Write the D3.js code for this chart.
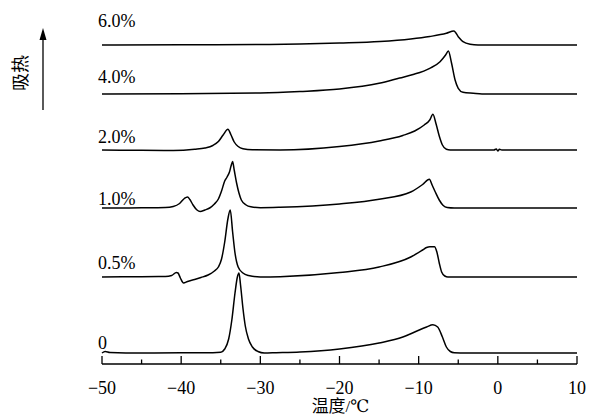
<!DOCTYPE html>
<html>
<head>
<meta charset="utf-8">
<script src="https://cdn.jsdelivr.net/npm/d3@7"></script>
<style>
  body { margin: 0; background: #fff; }
  svg { display: block; }
  text { font-family: "Liberation Serif", "Times New Roman", Times, "DejaVu Serif", "Noto Sans CJK SC", serif; }
</style>
</head>
<body>
<svg id="chart"></svg>
<script>
// DSC curves, one per concentration, [temperature °C, heat flow (arbitrary)]
const seriesLabels = ['0', '0.5%', '1.0%', '2.0%', '4.0%', '6.0%'];

// vertical offset of each curve (same arbitrary units)
const offsets = [0, 76, 145, 203, 259, 308];

const curve0 = [[-50,0],[-49.6,1.5],[-49,0.5],[-45,0],[-40,0.2],[-36,0.3],[-35,0.8],[-34.5,4],[-34,14],
    [-33.6,33],[-33.2,60],[-32.9,76],[-32.7,80],[-32.5,68],[-32.2,45],[-31.9,27],[-31.5,14],[-31,6],
    [-30.3,1.5],[-29.5,0],[-28,0.3],[-25,1],[-20,4],[-15,10],[-12,16],[-10.5,21],[-9,26],[-8.2,28.3],
    [-7.6,26],[-7,16],[-6.5,6],[-6,1.5],[-5.5,0.3],[-4,0],[0,0],[5,0],[10,0]];

const curve05 = [[-50,0],[-45,0.3],[-42,0.5],[-41.2,1.5],[-40.6,4.5],[-40.4,4],[-40.1,-1],[-39.7,-6],
    [-39.2,-4.5],[-38.3,-2.5],[-37.5,-0.5],[-36.6,2],[-35.8,6],[-35.3,10],[-34.9,18],[-34.5,35],
    [-34.1,58],[-33.8,67],[-33.5,45],[-33.2,24],[-32.8,10],[-32.2,4],[-31.5,1.5],[-30,0],[-27.5,0.3],
    [-20,4.5],[-15,10],[-11,20],[-9.5,27],[-9,29.5],[-8.6,30.3],[-8,30.3],[-7.7,25],[-7.4,14],
    [-7.1,5],[-6.7,1],[-6.3,0],[0,0],[10,0]];

const curve1 = [[-50,0],[-45,0.2],[-42,0.5],[-41,1.5],[-40.2,4.5],[-39.6,9.5],[-39.2,11],[-38.9,8.5],
    [-38.5,3],[-38,-2],[-37.6,-3.5],[-37,-2],[-36.4,0],[-35.8,4],[-35.3,9],[-34.9,17],[-34.5,27],
    [-34.2,31],[-33.9,36],[-33.7,42],[-33.5,46.5],[-33.3,38],[-33,25],[-32.7,15],[-32.4,8],[-31.8,3],
    [-31.2,1.2],[-30,0.3],[-27.5,0.7],[-20,4],[-15,8.7],[-11,16],[-9.5,23.5],[-8.65,28.7],[-8.3,23],
    [-7.9,16],[-7.4,8],[-6.9,2.5],[-6.4,0.5],[-5.5,0],[10,0]];

const curve2 = [[-50,0],[-45,-0.3],[-41,-0.5],[-38.3,0.7],[-37,2],[-36,4.5],[-35.3,8.5],[-34.7,15],
    [-34.1,20.7],[-33.7,15],[-33.3,8],[-32.8,3.5],[-32.2,1.2],[-31,0.2],[-27.5,0],[-20,3.5],[-15,9],
    [-12,14.5],[-10.5,19],[-9.3,25],[-8.6,30],[-8.2,35.7],[-7.8,26],[-7.4,14],[-7,5],[-6.5,0.7],
    [-6,0],[-0.5,0],[-0.2,1],[0,-1],[0.2,0.8],[0.5,0],[10,0]];

const curve4 = [[-50,0],[-40,0.3],[-30,1],[-25,2.5],[-20,5],[-15,10.7],[-12.4,16],[-10.7,19.5],
    [-8.6,25.7],[-7.3,32.3],[-6.6,39],[-6.25,43],[-5.85,31],[-5.4,14],[-5,5.7],[-4.4,1.7],
    [-3.1,0.7],[-2,0],[10,0]];

const curve6 = [[-50,0],[-40,0.2],[-30,0.5],[-25,1],[-20,2],[-14.9,3.5],[-11,6],[-8.6,8.5],
    [-6.5,11.7],[-5.55,14],[-5,8.3],[-4.4,3.3],[-3.5,0.7],[-2.5,0],[10,0]];

const curves = [curve0, curve05, curve1, curve2, curve4, curve6];

const xTicks = [-50, -40, -30, -20, -10, 0, 10];
const xMinorTicks = [-45, -35, -25, -15, -5, 5];

var width = 596,
    height = 416,
    labelLift = [4, 8, 3, 7, 11, 18];   // label baseline above its curve, px

var svg = d3.select('#chart')
    .attr('width', width)
    .attr('height', height);

const x = d3.scaleLinear()
    .domain([-50, 10])
    .range([102, 577]);

const y = d3.scaleLinear()
    .domain([-11, 340])
    .range([364, 13]);

const fmt = d => (d < 0 ? '\u2212' + Math.abs(d) : String(d));

// x axis, ticks pointing inward
var axis = svg.append('g')
    .attr('transform', 'translate(0,' + y(-11) + ')');

axis.append('line')
    .attr('x1', x(-50)).attr('x2', x(10))
    .attr('stroke', '#000').attr('stroke-width', 1.3);

axis.selectAll('.major')
    .data(xTicks)
    .join('line')
    .attr('x1', d => x(d)).attr('x2', d => x(d))
    .attr('y1', 0).attr('y2', -8)
    .attr('stroke', '#000').attr('stroke-width', 1.3);

axis.selectAll('.minor')
    .data(xMinorTicks)
    .join('line')
    .attr('x1', d => x(d)).attr('x2', d => x(d))
    .attr('y1', 0).attr('y2', -4.5)
    .attr('stroke', '#000').attr('stroke-width', 1.3);

axis.selectAll('text')
    .data(xTicks)
    .join('text')
    .attr('x', d => x(d))
    .attr('y', 30)
    .attr('text-anchor', 'middle')
    .style('font-size', '18px')
    .text(fmt);

svg.append('text')
    .attr('x', x(-20) + 1)
    .attr('y', 412)
    .attr('text-anchor', 'middle')
    .style('font-size', '17px')
    .text('温度/℃');

// y label and arrow
svg.append('text')
    .attr('transform', 'translate(27,73) rotate(-90)')
    .attr('text-anchor', 'middle')
    .style('font-size', '18px')
    .text('吸热');

svg.append('line')
    .attr('x1', 43).attr('x2', 43)
    .attr('y1', 110).attr('y2', 38)
    .attr('stroke', '#000').attr('stroke-width', 1.3);

svg.append('path')
    .attr('d', 'M43,28 L39.5,40 L46.5,40 Z')
    .attr('fill', '#000');

// curves
const line = d3.line()
    .curve(d3.curveMonotoneX);

curves.forEach(function (c, i) {
    svg.append('path')
        .attr('fill', 'none')
        .attr('stroke', '#000')
        .attr('stroke-width', 1.5)
        .attr('stroke-linejoin', 'round')
        .attr('d', line(c.map(p => [x(p[0]), y(p[1] + offsets[i])])));

    svg.append('text')
        .attr('x', x(-50) - 4)
        .attr('y', y(offsets[i]) - labelLift[i])
        .style('font-size', '18px')
        .text(seriesLabels[i]);
});
</script>
</body>
</html>
